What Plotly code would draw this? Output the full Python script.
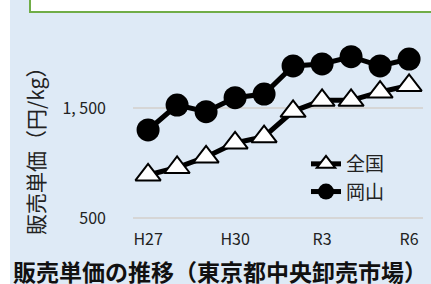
import plotly.graph_objects as go

years = ["H27", "H28", "H29", "H30", "R1", "R2", "R3", "R4", "R5", "R6"]
tick_labels = ["H27", "H30", "R3", "R6"]
zenkoku = [891, 959, 1055, 1182, 1239, 1470, 1570, 1570, 1645, 1705]
okayama = [1300, 1527, 1466, 1594, 1627, 1882, 1900, 1966, 1882, 1945]
y_tickvals = [500, 1500]
y_ticktext = ["500", "1, 500"]

FONT = "Noto Sans CJK JP"
W, H = 431, 284
L, R, T, B = 133, 8, 30, 56
pw, ph = W - L - R, H - T - B

def px(x):
    return (x - L) / pw

def py(y):
    return (H - B - y) / ph

xs = list(range(len(years)))

fig = go.Figure()
fig.add_trace(go.Scatter(
    x=xs, y=zenkoku, name="全国", mode="lines+markers",
    line=dict(color="black", width=5),
    marker=dict(symbol="triangle-up", size=22, color="white",
                line=dict(color="black", width=2)),
))
fig.add_trace(go.Scatter(
    x=xs, y=okayama, name="岡山", mode="lines+markers",
    line=dict(color="black", width=5),
    marker=dict(symbol="circle", size=23, color="black"),
))

fig.update_layout(
    width=W, height=H,
    margin=dict(l=L, r=R, t=T, b=B),
    paper_bgcolor="white",
    plot_bgcolor="rgba(0,0,0,0)",
    font=dict(family=FONT, color="#222222"),
    showlegend=True,
    legend=dict(
        x=px(306), y=py(145), xanchor="left", yanchor="top",
        bgcolor="rgba(0,0,0,0)", font=dict(size=19, color="#222222"),
        tracegroupgap=0, itemwidth=30,
    ),
    xaxis=dict(
        range=[-0.52, 9.48], tickmode="array",
        tickvals=[years.index(t) for t in tick_labels], ticktext=tick_labels,
        showgrid=False, zeroline=False, showline=False, ticks="",
        tickfont=dict(size=16, color="#222222"),
    ),
    yaxis=dict(
        range=[409, 2209], tickmode="array",
        tickvals=y_tickvals, ticktext=y_ticktext,
        showgrid=True, gridcolor="#d6d6d6", gridwidth=2,
        zeroline=False, showline=False, ticks="",
        ticklabelstandoff=26,
        tickfont=dict(size=16, color="#222222"),
    ),
    shapes=[
        dict(type="rect", xref="paper", yref="paper", layer="below",
             x0=px(10), x1=px(440), y0=py(300), y1=py(-10),
             fillcolor="#deeaf6", line=dict(width=0)),
        dict(type="rect", xref="paper", yref="paper", layer="below",
             x0=px(30), x1=px(445), y0=py(12), y1=py(-10),
             fillcolor="white", line=dict(color="#70ad47", width=2)),
    ],
    annotations=[
        dict(text="販売単価（円/kg）", xref="paper", yref="paper",
             x=px(35), y=py(146), textangle=-90, showarrow=False,
             xanchor="center", yanchor="middle",
             font=dict(size=21, color="#222222")),
        dict(text="<b>販売単価の推移（東京都中央卸売市場）</b>", xref="paper", yref="paper",
             x=px(11), y=py(271), showarrow=False,
             xanchor="left", yanchor="middle",
             font=dict(size=23, color="#111111")),
    ],
)

css_js = (
    "var s=document.createElement('style');"
    "s.textContent='html,body{margin:0!important;padding:0!important;overflow:hidden!important;scrollbar-width:none;}"
    "::-webkit-scrollbar{display:none;width:0;height:0;}';"
    "document.head.appendChild(s);"
    "document.documentElement.style.scrollbarWidth='none';"
)

fig.write_html(
    "out.html",
    config={"displayModeBar": False},
    post_script=css_js,
)
